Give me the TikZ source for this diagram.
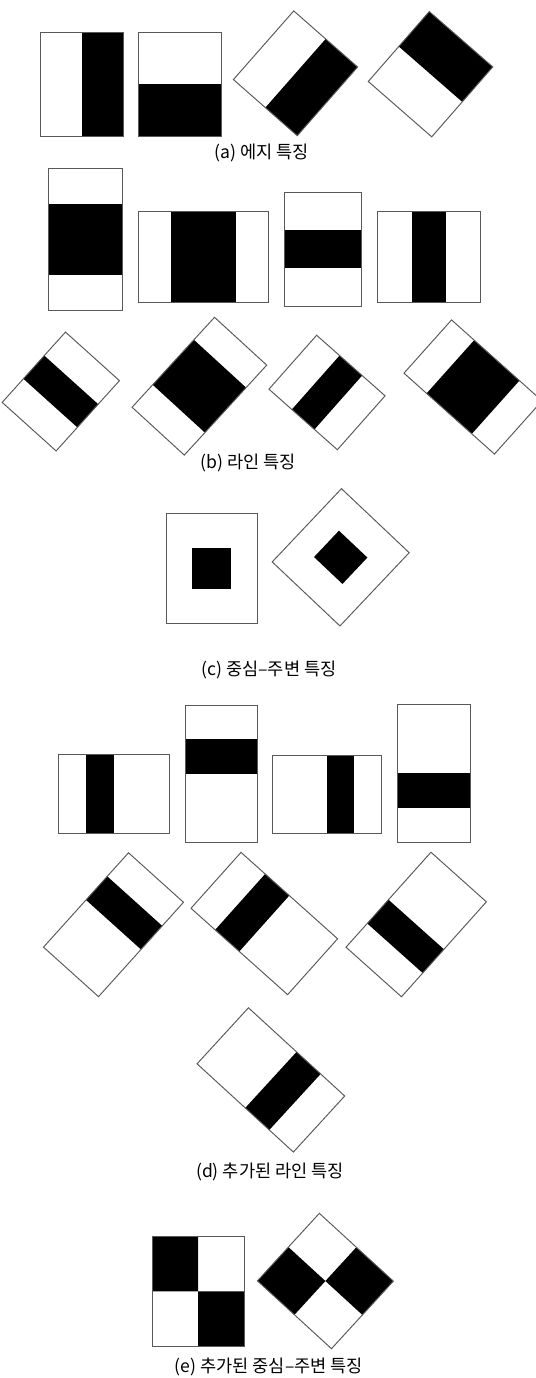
\documentclass[tikz,border=0pt]{standalone}
\usepackage{fontspec}
\usepackage{tikz}
\newfontfamily\kofont{Noto Sans CJK KR}
\tikzset{
  featedge/.style={draw=black!65, line width=0.55pt},
  featblack/.style={fill=black},
  figcap/.style={font=\kofont\fontsize{10}{12}\selectfont, inner sep=0pt},
}
% centre x, centre y, half width, half height, angle, black part
\newcommand{\featbox}[6]{%
  \begin{scope}[shift={(#1,#2)}, rotate=#5, xscale=#3, yscale=#4]
    \fill[featblack] #6;
    \draw[featedge] (-1,-1) rectangle (1,1);
  \end{scope}}

\begin{document}
\begin{tikzpicture}[x=0.02cm, y=-0.02cm]
    \useasboundingbox (0,0) rectangle (536,1378);

    \featbox{81.7}{84.3}{41.3}{52}{0}{(0,-1) rectangle (1,1)}
    \featbox{179.7}{84.3}{41.3}{52}{0}{(-1,0) rectangle (1,1)}
    \featbox{295.5}{73.3}{45.7}{42.5}{48.7}{(-1,0) rectangle (1,1)}
    \featbox{430.5}{74.2}{46.4}{42.1}{48.9}{(0,-1) rectangle (1,1)}
    \node[figcap] (capA) at (262,153) {(a) 에지 특징};

    \featbox{85.5}{239.2}{37.2}{70.8}{0}{(-1,-0.5) rectangle (1,0.5)}
    \featbox{203.3}{257.2}{65}{45.5}{0}{(-0.5,-1) rectangle (0.5,1)}
    \featbox{323}{249.2}{38.7}{56.8}{0}{(-1,-0.33) rectangle (1,0.33)}
    \featbox{428.7}{257.2}{51.3}{45.5}{0}{(-0.33,-1) rectangle (0.33,1)}
    \featbox{60.8}{391.5}{47.3}{36.3}{48}{(-0.33,-1) rectangle (0.33,1)}
    \featbox{199.4}{386.2}{61}{35.4}{47.5}{(-0.5,-1) rectangle (0.5,1)}
    \featbox{327}{392.5}{36}{45.7}{48.5}{(-1,-0.33) rectangle (1,0.33)}
    \featbox{473}{387}{35.7}{60.7}{48.2}{(-1,-0.5) rectangle (1,0.5)}
    \node[figcap] (capB) at (248,463) {(b) 라인 특징};

    \featbox{211.8}{568.3}{45.8}{55}{0}{(-0.43,-0.37) rectangle (0.43,0.37)}
    \featbox{340.7}{557.3}{50.4}{46.6}{46.6}{(-0.36,-0.42) rectangle (0.36,0.42)}
    \node[figcap] (capC) at (269,670) {(c) 중심–주변 특징};

    \featbox{113.8}{793.7}{55.5}{39.7}{0}{(-0.5,-1) rectangle (0,1)}
    \featbox{221.2}{773.7}{35.8}{68.7}{0}{(-1,-0.5) rectangle (1,0)}
    \featbox{327.2}{794.2}{54.5}{39.2}{0}{(0,-1) rectangle (0.5,1)}
    \featbox{433.8}{773.2}{36.2}{69.2}{0}{(-1,0) rectangle (1,0.5)}
    \featbox{113.5}{924.7}{63.5}{37}{48}{(0,-1) rectangle (0.5,1)}
    \featbox{264.3}{923.5}{37.5}{64.8}{48.2}{(-1,-0.5) rectangle (1,0)}
    \featbox{416.2}{924.5}{63.7}{37.2}{48.2}{(-0.5,-1) rectangle (0,1)}
    \featbox{270.9}{1079.9}{38}{65.3}{47.5}{(-1,0) rectangle (1,0.5)}
    \node[figcap] (capD) at (270,1172) {(d) 추가된 라인 특징};

    \featbox{198.2}{1291.3}{45.8}{55.3}{0}{(-1,-1) rectangle (0,0) (0,0) rectangle (1,1)}
    \featbox{325.4}{1281}{45.8}{50.2}{47.5}{(-1,-1) rectangle (0,0) (0,0) rectangle (1,1)}
    \node[figcap] (capE) at (269,1367) {(e) 추가된 중심–주변 특징};

\end{tikzpicture}
\end{document}
